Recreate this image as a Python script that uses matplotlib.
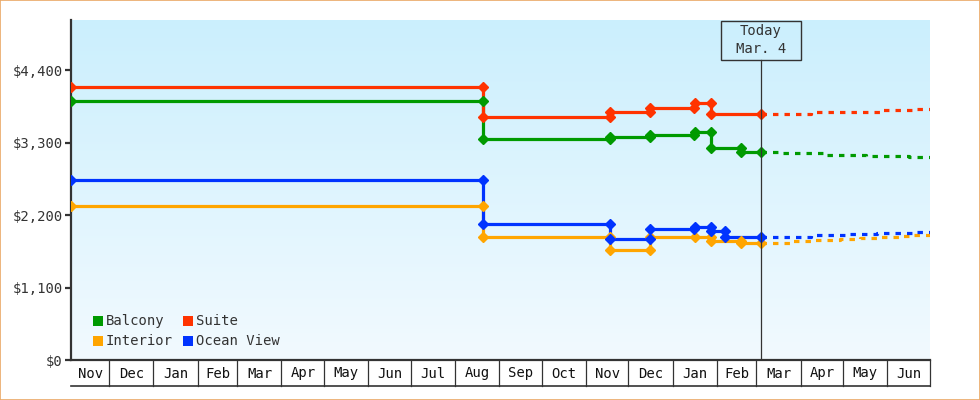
import matplotlib
matplotlib.use("Agg")
import matplotlib.pyplot as plt
import matplotlib.dates as mdates
import matplotlib.transforms as mtransforms
from matplotlib.patches import Rectangle
from matplotlib.colors import LinearSegmentedColormap
import numpy as np
import pandas as pd

plt.rcParams['font.family'] = ['DejaVu Sans Mono']

# ---------------- data ----------------
series_names = ["Balcony", "Suite", "Interior", "Ocean View"]
series_colors = {"Balcony": "#009a00", "Suite": "#ff3300",
                 "Interior": "#ffa500", "Ocean View": "#0033ff"}

balcony_dates = ["2016-11-04", "2017-08-21", "2017-08-21", "2017-11-18", "2017-11-18",
                 "2017-12-16", "2017-12-16", "2018-01-16", "2018-01-17", "2018-01-28",
                 "2018-01-28", "2018-02-18", "2018-02-18", "2018-03-04"]
balcony_prices = [3930, 3930, 3352, 3352, 3383, 3383, 3418, 3418, 3459, 3459,
                  3216, 3216, 3164, 3164]

suite_dates = ["2016-11-04", "2017-08-21", "2017-08-21", "2017-11-18", "2017-11-18",
               "2017-12-16", "2017-12-16", "2018-01-16", "2018-01-17", "2018-01-28",
               "2018-01-28", "2018-03-04"]
suite_prices = [4142, 4142, 3687, 3687, 3763, 3763, 3823, 3823, 3899, 3899, 3732, 3732]

interior_dates = ["2016-11-04", "2017-08-21", "2017-08-21", "2017-11-18", "2017-11-18",
                  "2017-12-16", "2017-12-16", "2018-01-17", "2018-01-28", "2018-01-28",
                  "2018-02-18", "2018-02-18", "2018-03-04"]
interior_prices = [2339, 2339, 1864, 1864, 1671, 1671, 1873, 1873, 1873, 1812,
                   1812, 1773, 1773]

ocean_dates = ["2016-11-04", "2017-08-21", "2017-08-21", "2017-11-18", "2017-11-18",
               "2017-12-16", "2017-12-16", "2018-01-16", "2018-01-17", "2018-01-28",
               "2018-01-28", "2018-02-07", "2018-02-07", "2018-03-04"]
ocean_prices = [2734, 2734, 2061, 2061, 1833, 1833, 1990, 1990, 2025, 2025,
                1964, 1964, 1864, 1864]

# forecasts
balcony_fc_dates = ["2018-03-04", "2018-03-19", "2018-04-17", "2018-05-17", "2018-06-16", "2018-07-01"]
balcony_fc_prices = [3155, 3140, 3114, 3099, 3084, 3084]
suite_fc_dates = ["2018-03-04", "2018-04-08", "2018-05-27", "2018-06-19", "2018-07-01"]
suite_fc_prices = [3732, 3763, 3793, 3808, 3808]
interior_fc_dates = ["2018-03-04", "2018-03-25", "2018-04-09", "2018-04-29", "2018-05-13",
                     "2018-05-27", "2018-06-10", "2018-06-19", "2018-07-01"]
interior_fc_prices = [1782, 1803, 1823, 1838, 1853, 1868, 1884, 1903, 1903]
ocean_fc_dates = ["2018-03-04", "2018-04-08", "2018-05-04", "2018-05-25", "2018-06-19", "2018-07-01"]
ocean_fc_prices = [1864, 1894, 1909, 1925, 1940, 1940]

history = {"Balcony": (balcony_dates, balcony_prices),
           "Suite": (suite_dates, suite_prices),
           "Interior": (interior_dates, interior_prices),
           "Ocean View": (ocean_dates, ocean_prices)}
forecast = {"Balcony": (balcony_fc_dates, balcony_fc_prices),
            "Suite": (suite_fc_dates, suite_fc_prices),
            "Interior": (interior_fc_dates, interior_fc_prices),
            "Ocean View": (ocean_fc_dates, ocean_fc_prices)}

x_start, x_end = "2016-11-04", "2018-07-01"
today = "2018-03-04"
today_label = "Today\nMar. 4"
y_ticks = [0, 1100, 2200, 3300, 4400]
y_tick_labels = ["$0", "$1,100", "$2,200", "$3,300", "$4,400"]
y_max = 5165
month_starts = pd.date_range("2016-12-01", "2018-07-01", freq="MS")

# ---------------- figure ----------------
W, H = 980, 400
fig = plt.figure(figsize=(W / 100, H / 100), dpi=100)
fig.patch.set_facecolor("white")
L, R, T, B = 71, 930, 20, 360
ax = fig.add_axes([L / W, 1 - B / H, (R - L) / W, (B - T) / H])

# border
fig.patches.append(Rectangle((0.0005, 0.001), 0.999, 0.998, transform=fig.transFigure,
                             fill=False, edgecolor="#eaa866", linewidth=1.2))

# background gradient (darker blue at top)
grad = np.linspace(0, 1, 256).reshape(-1, 1)
cmap = LinearSegmentedColormap.from_list("bg", ["#cbeffd", "#f2faff"])
ax.imshow(grad, aspect="auto", cmap=cmap, extent=[0, 1, 0, 1], origin="upper",
          transform=ax.transAxes, zorder=0, interpolation="bicubic")

xs = pd.Timestamp(x_start)
xe = pd.Timestamp(x_end)
ax.set_xlim(xs, xe)
ax.set_ylim(0, y_max)

for name in ["Interior", "Ocean View", "Balcony", "Suite"]:
    d, v = history[name]
    ax.plot(pd.to_datetime(d), v, drawstyle="steps-post", color=series_colors[name],
            lw=2.3, zorder=3)
    ax.plot(pd.to_datetime(d), v, ls="none", marker="D", ms=5,
            color=series_colors[name], zorder=4)
    fd, fv = forecast[name]
    ax.plot(pd.to_datetime(fd), fv, drawstyle="steps-post", color=series_colors[name],
            lw=2.3, ls=(0, (1.7, 1.9)), zorder=3)

# spines & ticks
for s in ["top", "right"]:
    ax.spines[s].set_visible(False)
for s in ["left", "bottom"]:
    ax.spines[s].set_color("#333333")
    ax.spines[s].set_linewidth(1.6)
ax.set_yticks(y_ticks)
ax.set_yticklabels(y_tick_labels)
ax.tick_params(axis="y", length=4, width=1.6, color="#333333", labelcolor="#333333",
               labelsize=10, pad=2)
ax.set_xticks([])

# month boxes below axis
blend = mtransforms.blended_transform_factory(ax.transData, ax.transAxes)
box_h = 25.7 / (B - T)
for ms in month_starts:
    ax.plot([ms, ms], [0, -box_h], color="#333333", lw=0.9, transform=blend,
            clip_on=False)
ax.plot([0, 1], [-box_h, -box_h], color="#333333", lw=1.2, transform=ax.transAxes,
        clip_on=False)
edges = [xs] + list(month_starts)
for a, b in zip(edges[:-1], edges[1:]):
    mid = a + (b - a) / 2
    ax.text(mid, -13.5 / (B - T), a.strftime("%b"),
            transform=blend, ha="center", va="center", fontsize=10, color="#111111")

# today marker
td = pd.Timestamp(today)
box_top_px, box_bot_px = 20.7, 60
ax.plot([td, td], [0, (B - box_bot_px) / (B - T)], color="#333333", lw=0.9,
        transform=blend, zorder=5)
tdn = mdates.date2num(td)
rect = Rectangle((tdn - 40 / 1.4203, (B - box_bot_px) / (B - T)), 80 / 1.4203,
                 (box_bot_px - box_top_px) / (B - T), transform=blend,
                 facecolor="none", edgecolor="#333333", lw=1.0, zorder=6, clip_on=False)
ax.add_patch(rect)
ax.text(td, (B - (box_top_px + box_bot_px) / 2) / (B - T), today_label, transform=blend,
        ha="center", va="center", fontsize=10, color="#333333", linespacing=1.35, zorder=7)

# legend (manual)
leg_rows = [("Balcony", "Suite"), ("Interior", "Ocean View")]
leg_y = [320.7, 340.7]
leg_x = [93, 183]
for r, row in enumerate(leg_rows):
    for c, name in enumerate(row):
        px, py = leg_x[c], leg_y[r]
        ax.add_patch(Rectangle(((px - L) / (R - L), (B - py - 5) / (B - T)),
                               10 / (R - L), 10 / (B - T), transform=ax.transAxes,
                               facecolor=series_colors[name], edgecolor="none", zorder=6))
        ax.text((px + 13 - L) / (R - L), (B - py) / (B - T), name, transform=ax.transAxes,
                ha="left", va="center", fontsize=10, color="#333333", zorder=6)

fig.savefig("out.png", dpi=100, facecolor="white")
